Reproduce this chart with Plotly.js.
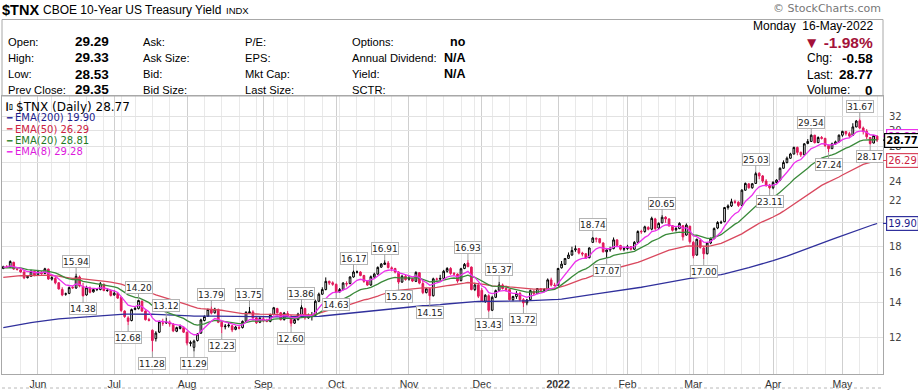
<!DOCTYPE html>
<html><head><meta charset="utf-8">
<script src="https://cdn.plot.ly/plotly-3.0.1.min.js"></script>
<style>html,body{margin:0;padding:0;background:#fff}#chart{width:918px;height:390px}</style>
</head><body><div id="chart"></div>
<script>
// ---------- DATA (x10 yield) ----------
const startDate = '2021-05-17', endDate = '2022-05-16';
const holidays = ['2021-05-31','2021-07-05','2021-09-06','2021-11-25','2021-12-24','2022-01-17','2022-02-21','2022-04-15'];
const prevClose0 = 16.28;
const opens = [
16.30,16.43,16.40,16.75,16.25,16.20,16.05,15.65,15.75,16.10,
15.85,16.05,15.95,16.25,15.55,15.60,15.30,14.85,14.55,14.60,15.00,14.95,15.70,15.05,14.50,14.95,14.70,14.85,14.85,15.20,14.80,14.80,
14.50,14.60,14.35,13.50,13.10,12.95,13.60,13.65,14.10,13.50,13.00,12.40,11.95,12.30,12.80,12.85,12.85,12.75,12.35,12.50,12.55,
12.30,11.70,11.50,11.85,12.25,12.95,13.20,13.60,13.40,13.60,12.85,12.60,12.65,12.65,12.45,12.55,12.55,12.90,13.40,13.45,13.10,12.85,
13.05,12.95,12.90,13.30,13.65,13.40,13.00,13.35,13.20,12.80,13.00,13.30,13.65,13.10,13.25,13.25,14.10,14.55,14.85,15.40,15.30,
15.20,14.70,14.85,15.25,15.25,15.70,16.05,16.05,15.80,15.40,15.15,15.70,15.90,16.40,16.60,16.70,16.35,16.30,16.05,15.35,15.75,
15.55,15.60,15.40,16.00,15.25,14.65,14.90,14.45,15.55,15.55,15.60,16.10,16.30,15.95,15.90,15.45,16.30,16.70,16.40,14.85,15.15,
14.80,14.10,14.45,13.55,14.35,14.80,15.15,14.92,14.85,14.20,14.40,14.60,14.20,14.00,14.20,14.75,14.60,14.90,14.80,14.85,15.50,15.15,
15.15,16.35,16.60,17.05,17.30,17.70,17.80,17.45,17.40,17.10,18.30,18.55,18.60,18.25,17.55,17.70,17.80,18.50,18.05,17.75,
17.80,17.95,17.75,18.30,19.20,19.20,19.55,19.40,20.30,19.50,19.95,20.45,20.30,19.70,19.35,19.45,19.70,18.90,19.65,
18.30,17.30,18.45,17.85,17.40,18.25,18.60,19.50,19.95,20.05,21.35,21.50,21.90,21.85,21.55,23.05,23.70,23.30,23.75,24.85,24.55,24.00,23.55,
23.30,23.85,24.10,25.40,26.05,26.55,27.05,27.85,27.25,26.95,28.35,28.60,29.40,28.45,29.10,29.00,28.10,27.70,28.30,28.55,
29.40,29.90,29.60,29.40,30.50,31.35,30.35,29.90,29.10,28.40,29.29];
const highs = [
16.50,16.55,16.90,16.80,16.40,16.25,16.10,15.80,16.20,16.15,
16.20,16.10,16.35,16.30,15.75,15.70,15.35,15.00,14.65,15.05,15.10,15.94,15.80,15.30,15.10,15.05,14.95,14.95,15.35,15.25,14.95,14.85,
14.80,14.65,14.40,13.55,13.20,13.65,13.75,14.20,14.15,13.55,13.10,12.45,12.35,12.95,13.05,13.12,12.95,12.80,12.60,12.72,12.60,
12.32,11.85,11.90,12.25,13.05,13.25,13.65,13.79,13.70,13.65,12.90,12.75,12.85,12.70,12.65,12.65,12.95,13.50,13.75,13.55,13.20,13.15,
13.15,13.05,13.35,13.75,13.70,13.45,13.45,13.50,13.25,13.05,13.40,13.86,13.70,13.35,13.45,14.20,14.65,15.00,15.67,15.45,15.40,
15.25,14.95,15.35,15.40,15.75,16.17,16.15,16.10,15.85,15.45,15.80,16.00,16.45,16.70,16.91,16.85,16.45,16.35,16.10,15.85,15.85,
15.80,15.65,16.10,16.05,15.55,14.95,14.95,15.65,15.65,15.85,16.20,16.40,16.40,16.05,15.95,16.35,16.70,16.93,16.45,15.30,15.30,
14.95,14.55,14.55,14.45,14.85,15.37,15.25,15.10,14.90,14.45,14.75,14.70,14.30,14.25,14.85,14.80,14.95,14.95,14.95,15.60,15.65,15.30,
16.35,16.85,17.05,17.50,17.95,18.05,17.85,17.55,17.45,17.90,18.74,18.70,18.65,18.30,17.80,17.95,18.70,18.55,18.10,17.95,
18.10,18.00,18.40,19.30,19.35,19.70,19.65,20.50,20.40,20.00,20.65,20.55,20.35,19.75,19.60,20.00,19.75,19.90,19.70,
18.40,18.60,18.60,17.95,18.30,18.70,19.55,20.10,20.15,21.40,21.65,22.20,22.10,21.95,23.15,23.85,23.80,23.80,25.03,24.95,24.65,24.20,23.70,
24.00,24.20,25.50,26.30,26.75,27.20,27.95,27.95,27.35,28.40,28.90,29.54,29.45,29.25,29.30,29.05,28.20,28.45,28.70,29.50,
30.00,29.95,29.85,31.00,31.45,31.67,30.55,30.20,29.15,29.40,29.33];
const lows = [
16.25,16.35,16.35,16.20,16.15,16.00,15.55,15.60,15.70,15.75,
15.80,15.85,15.90,15.50,15.45,15.20,14.85,14.42,14.45,14.55,14.90,14.90,15.00,14.38,14.45,14.60,14.65,14.75,14.80,14.75,14.70,14.40,
14.45,14.25,13.45,13.10,12.68,12.90,13.55,13.60,13.45,12.95,12.90,11.28,11.80,12.25,12.65,12.75,12.60,12.30,12.30,12.45,12.25,
11.60,11.55,11.29,11.80,12.20,12.90,13.15,13.30,13.35,12.80,12.23,12.45,12.55,12.30,12.40,12.45,12.50,12.85,13.35,13.05,12.75,12.80,
12.85,12.85,12.85,13.25,13.35,12.95,12.95,13.15,12.60,12.75,12.95,13.25,13.00,13.05,12.95,13.20,14.05,14.50,14.80,15.15,15.10,
14.63,14.65,14.80,15.05,15.20,15.65,15.95,15.75,15.30,15.10,15.10,15.60,15.85,16.35,16.55,16.30,16.10,15.95,15.20,15.30,15.45,
15.45,15.35,15.35,15.20,14.55,14.60,14.15,14.40,15.45,15.45,15.55,16.00,15.85,15.80,15.30,15.40,16.25,16.40,14.80,14.75,14.30,
14.05,14.00,13.43,13.50,14.30,14.75,14.85,14.70,14.15,14.10,14.25,14.10,13.72,13.85,14.15,14.50,14.55,14.70,14.70,14.80,15.05,15.05,
15.10,16.30,16.55,17.00,17.25,17.55,17.35,17.20,17.00,17.05,18.25,18.30,18.20,17.50,17.07,17.55,17.75,17.95,17.65,17.60,
17.70,17.65,17.70,18.25,19.00,19.10,19.30,19.30,19.30,19.40,19.90,19.95,19.60,19.20,19.20,19.40,18.45,18.85,18.20,
17.05,17.25,17.80,17.00,17.35,18.15,18.55,19.40,19.85,20.00,21.15,21.40,21.70,21.40,21.50,23.00,23.20,23.20,23.70,24.20,23.80,23.40,23.11,
23.15,23.75,24.00,25.35,25.95,26.50,27.00,26.90,26.70,26.90,28.25,28.55,28.35,28.40,28.85,27.90,27.24,27.65,28.20,28.50,
29.20,29.35,29.05,29.30,30.45,30.20,29.50,28.90,28.17,28.35,28.53];
const closes = [
16.43,16.37,16.81,16.26,16.23,16.05,15.64,15.74,16.09,15.81,
16.07,15.91,16.28,15.56,15.66,15.30,14.89,14.50,14.57,14.98,14.97,15.74,15.08,14.45,14.97,14.67,14.85,14.87,15.24,14.78,14.79,14.47,
14.61,14.30,13.54,13.18,12.90,13.59,13.66,14.15,13.50,13.00,12.96,11.85,12.25,12.88,12.80,12.82,12.75,12.37,12.55,12.62,12.30,
11.72,11.74,11.82,12.20,12.98,13.18,13.60,13.38,13.62,12.85,12.60,12.63,12.68,12.42,12.58,12.52,12.90,13.42,13.45,13.10,12.82,13.08,
12.95,12.90,13.28,13.70,13.40,13.00,13.38,13.21,12.80,13.00,13.32,13.72,13.10,13.25,13.25,14.10,14.55,14.85,15.40,15.28,15.20,
14.68,14.85,15.28,15.22,15.70,16.05,16.05,15.80,15.40,15.15,15.72,15.90,16.38,16.62,16.70,16.37,16.30,16.05,15.35,15.75,15.52,
15.62,15.42,16.02,15.28,14.65,14.90,14.45,15.57,15.55,15.60,16.10,16.30,15.95,15.90,15.42,16.28,16.60,16.43,14.85,15.15,14.42,
14.10,14.48,13.55,14.35,14.78,15.15,14.92,14.85,14.20,14.40,14.60,14.20,14.00,14.18,14.78,14.58,14.92,14.80,14.85,15.50,15.15,15.12,
16.30,16.62,17.04,17.30,17.65,17.78,17.45,17.38,17.05,17.85,18.65,18.62,18.28,17.55,17.70,17.80,18.50,18.05,17.75,17.80,
17.95,17.75,18.30,19.20,19.18,19.60,19.40,20.35,19.45,19.90,20.45,20.30,19.70,19.30,19.45,19.90,18.75,19.75,18.35,
17.25,18.55,17.90,17.40,18.25,18.60,19.45,19.98,20.00,21.35,21.50,21.90,21.85,21.55,23.05,23.75,23.30,23.72,24.80,24.55,24.00,23.55,23.30,
23.85,24.10,25.40,26.05,26.55,27.05,27.85,27.25,26.95,28.30,28.60,29.40,28.45,29.10,29.00,28.10,27.70,28.30,28.55,29.40,
29.90,29.60,29.30,30.50,31.30,30.35,29.90,29.20,28.35,29.35,28.77];

// EMA overlays: period, value on first plotted day, colour, legend value
const emaPeriods = [200, 50, 20, 8];
const emaSeeds   = [12.55, 15.67, 16.35, 16.40];
const emaColors  = ['#30309c', '#d9485e', '#3a8a3a', '#ec30ec'];
const emaTextColors = ['#1c1c8c', '#cc2040', '#1f7a1f', '#dd18dd'];
const emaLast    = ['19.90', '26.29', '28.81', '29.28'];

// pivot labels: trading-day index and side
const pivotIdx  = [21,23,36,39,43,47,55,60,63,71,83,86,96,101,110,114,123,134,140,143,150,170,174,190,202,217,221,233,238,247,250];
const pivotSide = ['h','l','l','h','l','h','l','h','l','h','l','h','l','h','h','l','l','h','l','h','l','h','l','h','l','h','l','h','l','h','l'];

const yTicks = [12,14,16,18,20,22,24,26,28,30,32];
const monthNames = ['Jan','Feb','Mar','Apr','May','Jun','Jul','Aug','Sep','Oct','Nov','Dec'];

// header texts
const infoCol1 = ['Open:','High:','Low:','Prev Close:'];
const infoVal1 = ['29.29','29.33','28.53','29.35'];
const infoCol2 = ['Ask:','Ask Size:','Bid:','Bid Size:'];
const infoCol3 = ['P/E:','EPS:','Mkt Cap:','Last Size:'];
const infoCol4 = ['Options:','Annual Dividend:','Yield:','SCTR:'];
const infoVal4 = ['no','N/A','N/A',''];
const quoteLabels = ['Chg:','Last:','Volume:'];
const quoteValues = ['-0.58','28.77','0'];

// ---------- BUILD ----------
function tradingDays(s, e) {
  const out = []; let d = new Date(s + 'T00:00:00Z'); const end = new Date(e + 'T00:00:00Z');
  while (d <= end) {
    const wd = d.getUTCDay(), iso = d.toISOString().slice(0, 10);
    if (wd !== 0 && wd !== 6 && !holidays.includes(iso)) out.push(iso);
    d = new Date(d.getTime() + 86400000);
  }
  return out;
}
const dates = tradingDays(startDate, endDate);
const n = closes.length;
const xs = closes.map((_, i) => i);

const monthIdx = [], monthTxt = [], weekIdx = [];
for (let i = 1; i < dates.length; i++) {
  const a = new Date(dates[i - 1] + 'T00:00:00Z'), b = new Date(dates[i] + 'T00:00:00Z');
  if (a.getUTCMonth() !== b.getUTCMonth()) {
    monthIdx.push(i);
    monthTxt.push(b.getUTCMonth() === 0 ? '<b>' + b.getUTCFullYear() + '</b>' : monthNames[b.getUTCMonth()]);
  }
  if (b.getUTCDay() < a.getUTCDay() || (b - a) > 3 * 86400000) weekIdx.push(i);
}

function ema(period, seed) {
  const k = 2 / (period + 1); const out = []; let e = seed;
  closes.forEach((c, i) => { if (i > 0) e = e + k * (c - e); out.push(e); });
  return out;
}

const upSet = { x: [], o: [], h: [], l: [], c: [] }, dnSet = { x: [], o: [], h: [], l: [], c: [] };
for (let i = 0; i < n; i++) {
  const prev = i === 0 ? prevClose0 : closes[i - 1];
  const s = closes[i] >= prev ? upSet : dnSet;
  s.x.push(i); s.o.push(opens[i]); s.h.push(highs[i]); s.l.push(lows[i]); s.c.push(closes[i]);
}
const RED = '#e0185a';
function candle(s, col) {
  return { type: 'candlestick', x: s.x, open: s.o, high: s.h, low: s.l, close: s.c,
    increasing: { line: { color: col, width: 1 }, fillcolor: '#ffffff' },
    decreasing: { line: { color: col, width: 1 }, fillcolor: col },
    whiskerwidth: 0, hoverinfo: 'skip', showlegend: false };
}
const traces = [];
emaPeriods.forEach((p, j) => {
  traces.push({ type: 'scatter', mode: 'lines', x: xs, y: ema(p, emaSeeds[j]),
    line: { color: emaColors[j], width: 1.3 }, hoverinfo: 'skip', showlegend: false });
});
traces.push(candle(upSet, '#000000'));
traces.push(candle(dnSet, RED));

// pixel -> paper helpers (plot area: x 2..883, y 96..374)
const PL = 2, PR = 883, PT = 96, PB = 374;
const px = x => (x - PL) / (PR - PL);
const py = y => (PB - y) / (PB - PT);
const ann = [];
function txt(x, y, text, size, color, anchor, bold, family) {
  ann.push({ xref: 'paper', yref: 'paper', x: px(x), y: py(y), text: bold ? '<b>' + text + '</b>' : text,
    showarrow: false, xanchor: anchor || 'left', yanchor: 'middle',
    font: { family: family || 'Liberation Sans, Arial, sans-serif', size: size, color: color || '#000' } });
}
// title row
txt(0, 10, '$TNX', 14.5, '#000', 'left', true);
txt(41, 10, 'CBOE 10-Year US Treasury Yield', 12, '#000');
txt(224, 11, 'INDX', 9.5, '#000');
txt(883, 9, '\u00a9 StockCharts.com', 11, '#777', 'right', false, 'DejaVu Sans, sans-serif');
// info table
const rowY = [41.7, 57.7, 74, 90];
rowY.forEach((y, r) => {
  txt(6, y, infoCol1[r], 11.2);
  txt(73, y, infoVal1[r], 13.5, '#000', 'left', true);
  txt(141, y, infoCol2[r], 11.2);
  txt(243, y, infoCol3[r], 11.2);
  txt(350, y, infoCol4[r], 11.2);
  if (infoVal4[r]) txt(468, y, infoVal4[r], 12.5, '#000', 'right', true);
});
txt(875, 25.5, 'Monday\u00a0\u00a016-May-2022', 12, '#000', 'right');
txt(875, 42, '\u25BC -1.98%', 15.5, '#a3123a', 'right', true);
quoteLabels.forEach((t, r) => {
  txt(805, 58.5 + r * 16, t, 12);
  txt(875, 58.5 + r * 16, quoteValues[r], 13.5, '#000', 'right', true);
});
// legend
txt(3, 106.7, '<b>\u2503\u25AF</b>', 7, '#000');
txt(14, 106.7, '$TNX (Daily) 28.77', 12, '#000', 'left', false, 'DejaVu Sans, sans-serif');
emaPeriods.forEach((p, j) => {
  const y = 117.9 + j * 11.3;
  txt(4, y, '\u2501', 9, emaColors[j], 'left', false, 'DejaVu Sans, sans-serif');
  txt(13, y, 'EMA(' + p + ') ' + emaLast[j], 10, emaTextColors[j], 'left', false, 'DejaVu Sans, sans-serif');
});
// pivot labels
pivotIdx.forEach((i, k) => {
  const hi = pivotSide[k] === 'h'; const v = hi ? highs[i] : lows[i];
  ann.push({ xref: 'x', yref: 'y', x: i, y: Math.log10(v), text: v.toFixed(2), showarrow: true,
    arrowhead: 0, arrowwidth: 1, arrowcolor: '#a0a0a0', ax: 0, ay: hi ? -12 : 12,
    font: { family: 'DejaVu Sans, sans-serif', size: 9, color: '#222' }, bgcolor: '#fff',
    bordercolor: '#b4b4b4', borderwidth: 1, borderpad: 0, height: 11 });
});
// right-edge value boxes (EMA8 behind last price), each with a short pointer to the plot edge
const boxDefs = [
  { v: +emaLast[0], t: emaLast[0], c: emaColors[0], tc: emaTextColors[0], b: false },
  { v: +emaLast[1], t: emaLast[1], c: emaColors[1], tc: emaTextColors[1], b: false },
  { v: +emaLast[3], t: emaLast[3], c: emaColors[3], tc: emaTextColors[3], b: false },
  { v: closes[n - 1], t: closes[n - 1].toFixed(2), c: '#000', tc: '#000', b: true }
];
boxDefs.forEach(d => {
  ann.push({ xref: 'paper', yref: 'y', x: 1, y: Math.log10(d.v), ax: 19, ay: 0,
    showarrow: true, arrowhead: 0, arrowwidth: 1.2, arrowcolor: d.c,
    text: d.b ? '<b>' + d.t + '</b>' : d.t,
    font: { family: 'DejaVu Sans, sans-serif', size: 10, color: d.tc }, bgcolor: '#fff',
    bordercolor: d.c, borderwidth: 1.2, borderpad: 1, height: 11 });
});

const shapes = [
  { type: 'rect', xref: 'paper', yref: 'paper', x0: 0, x1: 1, y0: 1, y1: py(19.5), line: { color: '#a8a8a8', width: 1 } },
  { type: 'line', xref: 'paper', yref: 'paper', x0: 0, x1: 1, y0: py(388), y1: py(388), line: { color: '#b8b8b8', width: 1, dash: 'dot' } }
];

const layout = {
  width: 918, height: 390, margin: { l: PL, r: 918 - PR, t: PT, b: 390 - PB },
  paper_bgcolor: '#fff', plot_bgcolor: '#fff', showlegend: false,
  xaxis: { type: 'linear', range: [-0.37, 253.7], tickmode: 'array', tickvals: monthIdx, ticktext: monthTxt,
    showgrid: true, gridcolor: '#cfcfcf', gridwidth: 1, zeroline: false, ticks: '',
    minor: { tickmode: 'array', tickvals: weekIdx, showgrid: true, gridcolor: '#e9e9e9', ticklen: 0 },
    showline: true, mirror: true, linecolor: '#a8a8a8', rangeslider: { visible: false }, fixedrange: true,
    tickfont: { family: 'Liberation Sans Narrow, Liberation Sans, Arial, sans-serif', size: 10.5, color: '#333' } },
  yaxis: { type: 'log', side: 'right', range: [Math.log10(10.22), Math.log10(34.97)],
    tickmode: 'array', tickvals: yTicks, ticktext: yTicks.map(String), showgrid: true, gridcolor: '#e2e2e2',
    zeroline: false, ticks: '', ticklabelstandoff: 3, showline: true, mirror: true, linecolor: '#a8a8a8', fixedrange: true,
    tickfont: { family: 'DejaVu Sans, sans-serif', size: 10, color: '#444' } },
  annotations: ann, shapes: shapes
};
Plotly.newPlot('chart', traces, layout, { staticPlot: true, displayModeBar: false });
</script></body></html>
